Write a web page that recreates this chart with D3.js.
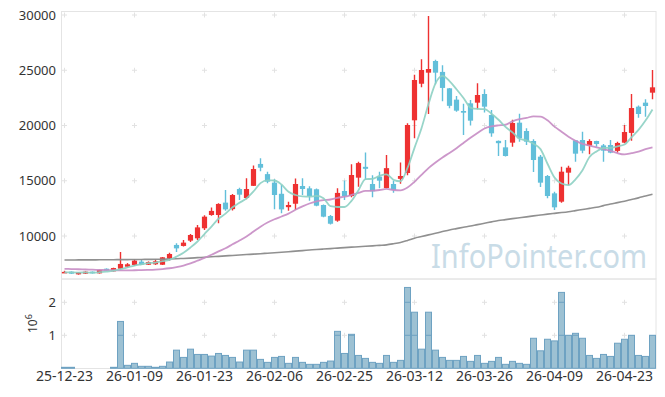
<!DOCTYPE html>
<html>
<head>
<meta charset="utf-8">
<script src="https://cdn.jsdelivr.net/npm/d3@7/dist/d3.min.js"></script>
<style>
  body { margin: 0; background: #fff; }
  svg { display: block; }
  svg text { font-family: "Noto Sans", "Open Sans", sans-serif; }
  .axis text { fill: #333; }
</style>
</head>
<body>
<div id="chart"></div>
<script>
// trading days
var dates = [
  '25-12-23','25-12-24','25-12-26','25-12-29','25-12-30','26-01-02','26-01-05','26-01-06','26-01-07','26-01-08',
  '26-01-09','26-01-12','26-01-13','26-01-14','26-01-15','26-01-16','26-01-19','26-01-20','26-01-21','26-01-22',
  '26-01-23','26-01-26','26-01-27','26-01-28','26-01-29','26-01-30','26-02-02','26-02-03','26-02-04','26-02-05',
  '26-02-06','26-02-09','26-02-10','26-02-11','26-02-12','26-02-13','26-02-19','26-02-20','26-02-23','26-02-24',
  '26-02-25','26-02-26','26-02-27','26-03-03','26-03-04','26-03-05','26-03-06','26-03-09','26-03-10','26-03-11',
  '26-03-12','26-03-13','26-03-16','26-03-17','26-03-18','26-03-19','26-03-20','26-03-23','26-03-24','26-03-25',
  '26-03-26','26-03-27','26-03-30','26-03-31','26-04-01','26-04-02','26-04-03','26-04-06','26-04-07','26-04-08',
  '26-04-09','26-04-10','26-04-13','26-04-14','26-04-15','26-04-16','26-04-17','26-04-20','26-04-21','26-04-22',
  '26-04-23','26-04-24','26-04-27','26-04-28','26-04-29'
];
var tickDates = ['25-12-23','26-01-09','26-01-23','26-02-06','26-02-25','26-03-12','26-03-26','26-04-09','26-04-23'];

var opens = [
  6700,6770,6530,6590,6770,6620,7040,6800,7040,7220,
  7380,7680,7400,7440,7400,7950,9190,9100,9580,9790,
  10700,11900,11900,13020,12430,14250,13440,14540,16520,15600,
  14830,13820,12610,12920,14525,14313,14230,12805,11809,11387,
  14072,13619,15280,16260,14705,15369,14340,14705,15170,15700,
  20470,23780,24781,25837,24850,23363,22340,21311,22006,22066,
  22850,20950,18610,18024,18446,20256,19502,18597,17180,15429,
  13860,13106,15731,18657,18687,18174,18597,18200,18235,17700,
  18446,19330,21705,22066,22971
];
var highs = [
  6850,6800,6740,6800,6790,6950,7070,7130,8550,7550,
  7890,7890,7700,7890,8100,8490,9340,9640,10180,11000,
  11870,12590,12960,14160,13800,14370,15220,16370,17030,15820,
  15130,14615,13107,15200,15218,14500,14300,12850,11900,14313,
  15030,16500,16727,17550,15500,15822,17330,15007,16650,20196,
  24600,25988,29910,25950,25450,23400,22680,21960,22300,23816,
  23273,21400,18650,18687,20520,21070,19743,18748,17330,15520,
  14011,16273,16364,18687,19442,18748,18620,18325,18687,18536,
  20045,22850,21800,22368,25023
];
var lows = [
  6650,6560,6500,6560,6600,6600,6830,6780,6980,7150,
  7290,7380,7380,7380,7380,7770,8550,9040,9460,9640,
  10540,11840,11150,12290,12300,13250,13320,14520,15850,14770,
  12410,12050,12280,12350,13710,13200,12700,11700,11050,11296,
  13257,13500,14464,15100,13500,14313,14313,13921,14735,15500,
  18838,23454,21030,23740,22200,21550,21251,19140,20000,21462,
  21170,18989,17239,17200,18084,18536,18235,15800,14430,13408,
  12352,13016,14615,16726,17480,17390,18084,16726,17480,17541,
  18386,18626,20700,20799,22368
];
var closes = [
  6750,6590,6710,6770,6620,6920,6860,7100,7470,7440,
  7770,7400,7650,7710,8070,8370,8880,9400,10090,10780,
  11750,12270,12900,12410,13710,13740,14250,16060,16180,14920,
  13710,12410,12805,14706,14253,13619,12744,11749,11110,13900,
  13619,15520,16600,16080,14040,15007,16140,14162,15429,20045,
  24117,25023,25113,24781,23400,21780,21342,21160,20437,22760,
  21704,19290,18400,17239,20226,18838,18536,16877,14826,13619,
  12594,15821,16183,17450,17722,18597,18325,17722,17541,18420,
  19410,21580,21041,21765,23454
];
var volumes = [
  30000,30000,0,0,0,0,0,30000,1420000,90000,
  150000,60000,60000,30000,60000,190000,550000,330000,580000,420000,
  420000,370000,450000,390000,330000,190000,550000,550000,270000,180000,
  330000,360000,150000,330000,180000,120000,120000,180000,220000,1120000,
  450000,1030000,390000,300000,180000,150000,390000,180000,240000,2450000,
  1700000,580000,1700000,550000,330000,240000,240000,360000,210000,390000,
  150000,210000,330000,120000,210000,150000,120000,910000,530000,880000,
  830000,2300000,1000000,1060000,910000,390000,300000,420000,360000,760000,
  880000,1000000,390000,360000,1000000
];
// moving averages: 5, 20, 120 days
var ma5 = [
  6720,6700,6690,6700,6688,6722,6776,6854,6994,7158,
  7328,7436,7546,7594,7720,7840,8136,8486,8962,9504,
  10180,10858,11558,12022,12608,13006,13402,14034,14788,15030,
  15024,14656,14005,13710,13577,13559,13625,13414,12695,12624,
  12624,13180,14150,15144,15172,15449,15573,15086,14956,16157,
  17979,19755,21945,23816,24487,24019,23283,22493,21624,21496,
  21481,21070,20518,19879,19372,18799,18648,18343,17861,16539,
  15290,14747,14609,15133,15954,17155,17655,17963,17981,18121,
  18284,18935,19598,20443,21450
];
var ma20 = [
  7030,7010,6990,6970,6950,6930,6910,6900,6890,6890,
  6900,6910,6930,6960,7010,7080,7190,7330,7520,7768,
  8018,8302,8611,8893,9248,9589,9958,10406,10842,11216,
  11513,11763,12021,12371,12680,12942,13135,13253,13304,13460,
  13553,13716,13901,14084,14101,14164,14259,14164,14126,14382,
  14903,15533,16149,16653,17110,17518,17948,18418,18885,19328,
  19732,19921,20011,20068,20378,20569,20689,20825,20795,20473,
  19897,19437,18991,18624,18340,18181,18030,17858,17714,17497,
  17382,17496,17628,17855,18016
];
var ma120 = [
  7830,7830,7835,7835,7840,7845,7850,7855,7860,7865,
  7870,7878,7885,7892,7900,7920,7940,7970,8000,8040,
  8080,8120,8160,8200,8240,8280,8320,8360,8400,8445,
  8490,8535,8580,8630,8680,8730,8780,8820,8860,8905,
  8950,8990,9030,9070,9110,9155,9200,9300,9420,9600,
  9800,9950,10100,10250,10400,10550,10670,10790,10900,11030,
  11150,11280,11400,11480,11570,11650,11730,11820,11900,11980,
  12050,12120,12200,12300,12400,12500,12600,12750,12900,13020,
  13150,13300,13450,13620,13780
];
var priceTicks = [10000, 15000, 20000, 25000, 30000];
var volTicks = [1000000, 2000000];

var width = 665, height = 397;
var left = 61, right = 656;
var topY = 11.5, midY = 279, botY = 368.5;
var upColor = '#ee3131', downColor = '#62bfda';

var svg = d3.select('#chart')
  .append('svg')
    .attr('width', width)
    .attr('height', height);

var x = d3.scaleBand().domain(dates).range([left, right]);
var bw = x.bandwidth();
var cx = function (d) { return x(d) + bw / 2; };

var y = d3.scaleLinear().domain([10000, 30000]).range([236, 15]);
var yv = d3.scaleLinear().domain([0, 2000000]).range([368.3, 302.3]);

var defs = svg.append('defs');
defs.append('clipPath').attr('id', 'pclip')
  .append('rect')
    .attr('x', left).attr('y', topY)
    .attr('width', right - left).attr('height', midY - topY);

// watermark
svg.append('text')
  .attr('x', 431).attr('y', 268)
  .attr('textLength', 216)
  .attr('lengthAdjust', 'spacingAndGlyphs')
  .style('font-size', '32px')
  .style('fill', '#c9dce7')
  .text('InfoPointer.com');

// panel frames
svg.append('rect')
  .attr('x', left + 0.5).attr('y', topY)
  .attr('width', right - left - 0.5).attr('height', midY - topY)
  .style('fill', 'none').style('stroke', '#e4e4e4');
svg.append('rect')
  .attr('x', left + 0.5).attr('y', midY)
  .attr('width', right - left - 0.5).attr('height', botY - midY)
  .style('fill', 'none').style('stroke', '#e4e4e4');

// grid crosses
var crosses = [];
tickDates.forEach(function (d) {
  priceTicks.forEach(function (v) { crosses.push([cx(d), y(v)]); });
  volTicks.forEach(function (v) { crosses.push([cx(d), yv(v)]); });
});
svg.append('g').selectAll('path')
  .data(crosses)
  .enter().append('path')
    .attr('d', function (p) {
      return 'M' + (p[0] - 2.5) + ',' + p[1] + 'h5M' + p[0] + ',' + (p[1] - 2.5) + 'v5';
    })
    .style('stroke', '#e2e2e2')
    .style('stroke-width', 1);

// volume
var vdata = dates.map(function (d, i) { return { date: d, vol: volumes[i] }; });
var vclip = defs.append('clipPath').attr('id', 'vclip');
vclip.selectAll('rect')
  .data(vdata)
  .enter().append('rect')
    .attr('x', function (d) { return x(d.date); })
    .attr('width', bw)
    .attr('y', function (d) { return yv(d.vol); })
    .attr('height', function (d) { return yv(0) - yv(d.vol); });

svg.append('g').selectAll('rect')
  .data(vdata.filter(function (d) { return d.vol > 0; }))
  .enter().append('rect')
    .attr('x', function (d) { return x(d.date) + 0.5; })
    .attr('width', bw - 1)
    .attr('y', function (d) { return yv(d.vol); })
    .attr('height', function (d) { return yv(0) - yv(d.vol); })
    .style('fill', '#9dc1d3')
    .style('stroke', '#6ea2c2')
    .style('stroke-width', 1);

svg.append('g')
    .attr('clip-path', 'url(#vclip)')
  .selectAll('line')
  .data(volTicks)
  .enter().append('line')
    .attr('x1', left).attr('x2', right)
    .attr('y1', function (v) { return yv(v); })
    .attr('y2', function (v) { return yv(v); })
    .style('stroke', '#6ea2c2')
    .style('stroke-width', 1);

// candles
var cdata = dates.map(function (d, i) {
  return { date: d, o: opens[i], h: highs[i], l: lows[i], c: closes[i] };
});
var pg = svg.append('g').attr('clip-path', 'url(#pclip)');

var cg = pg.selectAll('g.candle')
  .data(cdata)
  .enter().append('g')
    .classed('candle', true)
    .style('fill', function (d) { return d.c >= d.o ? upColor : downColor; })
    .style('stroke', function (d) { return d.c >= d.o ? upColor : downColor; });

cg.append('line')
  .attr('x1', function (d) { return cx(d.date); })
  .attr('x2', function (d) { return cx(d.date); })
  .attr('y1', function (d) { return y(d.h); })
  .attr('y2', function (d) { return y(d.l); })
  .style('stroke-width', 1.4);

cg.append('rect')
  .attr('x', function (d) { return cx(d.date) - 2.6; })
  .attr('width', 5.2)
  .attr('y', function (d) { return y(Math.max(d.o, d.c)); })
  .attr('height', function (d) { return Math.max(1.5, Math.abs(y(d.o) - y(d.c))); })
  .style('stroke', 'none');

// moving averages
var lines = [
  { vals: ma120, color: '#8a8a8a', w: 1.6, op: 0.95 },
  { vals: ma20, color: '#c78cc4', w: 1.8, op: 0.9 },
  { vals: ma5, color: '#8dd0c3', w: 1.8, op: 0.9 }
];
var line = d3.line()
  .x(function (v, i) { return cx(dates[i]); })
  .y(function (v) { return y(v); })
  .curve(d3.curveMonotoneX);

pg.selectAll('path.ma')
  .data(lines)
  .enter().append('path')
    .classed('ma', true)
    .attr('d', function (s) { return line(s.vals); })
    .style('fill', 'none')
    .style('stroke', function (s) { return s.color; })
    .style('stroke-width', function (s) { return s.w; })
    .style('opacity', function (s) { return s.op; });

// axes
var yAxis = svg.append('g')
    .classed('axis', true)
    .attr('transform', 'translate(' + left + ',0)')
    .call(d3.axisLeft(y).tickValues(priceTicks).tickSize(0).tickPadding(5)
      .tickFormat(d3.format('d')));
yAxis.attr('font-family', null);
yAxis.select('.domain').remove();
yAxis.selectAll('text').style('font-size', '13px');

var vAxis = svg.append('g')
    .classed('axis', true)
    .attr('transform', 'translate(' + left + ',0)')
    .call(d3.axisLeft(yv).tickValues(volTicks).tickSize(0).tickPadding(5)
      .tickFormat(function (v) { return v / 1000000; }));
vAxis.attr('font-family', null);
vAxis.select('.domain').remove();
vAxis.selectAll('text').style('font-size', '13px');

var xAxis = svg.append('g')
    .classed('axis', true)
    .attr('transform', 'translate(0,' + botY + ')')
    .call(d3.axisBottom(x).tickValues(tickDates).tickSize(0).tickPadding(3));
xAxis.attr('font-family', null);
xAxis.select('.domain').remove();
xAxis.selectAll('text').style('font-size', '14px');

var unit = svg.append('text')
  .attr('transform', 'translate(37,333) rotate(-90)')
  .style('font-size', '12px')
  .style('fill', '#333');
unit.append('tspan').text('10');
unit.append('tspan').attr('dy', -5).style('font-size', '9px').text('6');
</script>
</body>
</html>
